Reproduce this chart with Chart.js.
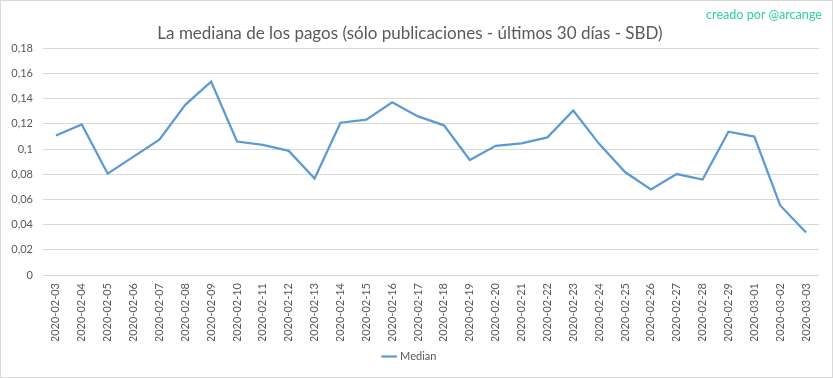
<!DOCTYPE html>
<html>
<head>
<meta charset="utf-8">
<title>La mediana de los pagos</title>
<script src="https://cdn.jsdelivr.net/npm/chart.js@4"></script>
<style>
  html, body { margin: 0; padding: 0; background: #fff; }
  .wrap {
    position: relative;
    width: 833px;
    height: 378px;
    box-sizing: border-box;
    border: 1px solid #d9d9d9;
  }
  .wrap canvas { position: absolute; left: 0; top: 0; }
  .credit {
    position: absolute;
    right: 10px;
    top: 6px;
    font-family: Lato, "Open Sans", sans-serif;
    font-size: 12.6px;
    color: #2ecfa6;
  }
</style>
</head>
<body>
<div class="wrap">
  <canvas id="chart" width="833" height="378"></canvas>
  <div class="credit">creado por @arcange</div>
</div>
<script>
const dates = [
  '2020-02-03', '2020-02-04', '2020-02-05', '2020-02-06', '2020-02-07',
  '2020-02-08', '2020-02-09', '2020-02-10', '2020-02-11', '2020-02-12',
  '2020-02-13', '2020-02-14', '2020-02-15', '2020-02-16', '2020-02-17',
  '2020-02-18', '2020-02-19', '2020-02-20', '2020-02-21', '2020-02-22',
  '2020-02-23', '2020-02-24', '2020-02-25', '2020-02-26', '2020-02-27',
  '2020-02-28', '2020-02-29', '2020-03-01', '2020-03-02', '2020-03-03'
];
// median payout per day (SBD)
const median = [
  0.1108, 0.1195, 0.0805, 0.094, 0.1075,
  0.1352, 0.1536, 0.106, 0.1034, 0.0986,
  0.0766, 0.121, 0.1234, 0.1372, 0.126,
  0.1189, 0.0914, 0.1026, 0.1045, 0.1093,
  0.1306, 0.1042, 0.0818, 0.068, 0.0802,
  0.0758, 0.1138, 0.110, 0.0552, 0.0337
];
const yMin = 0;
const yMax = 0.18;
const yStep = 0.02;

const grey = '#595959';
const fontFamily = 'Lato, "Open Sans", sans-serif';

new Chart(document.getElementById('chart'), {
  type: 'line',
  data: {
    labels: dates,
    datasets: [{
      label: 'Median',
      data: median,
      borderColor: '#5b9bd5',
      backgroundColor: '#5b9bd5',
      borderWidth: 2.25,
      pointRadius: 0,
      tension: 0,
      fill: false
    }]
  },
  options: {
    responsive: false,
    animation: false,
    layout: { padding: { left: 0, right: 15, top: 0, bottom: 7 } },
    plugins: {
      title: {
        display: true,
        text: 'La mediana de los pagos (sólo publicaciones - últimos 30 días - SBD)',
        color: grey,
        font: { family: fontFamily, size: 17, weight: 'normal' },
        padding: { top: 22, bottom: 5 }
      },
      legend: {
        position: 'bottom',
        labels: {
          color: grey,
          font: { family: fontFamily, size: 11 },
          usePointStyle: true,
          pointStyle: 'line',
          boxWidth: 26,
          padding: 10
        }
      },
      tooltip: { enabled: false }
    },
    scales: {
      x: {
        offset: true,
        grid: { display: false, drawTicks: false },
        border: { display: false },
        ticks: {
          color: grey,
          font: { family: fontFamily, size: 11 },
          autoSkip: false,
          minRotation: 90,
          maxRotation: 90,
          padding: 8
        },
        afterFit: s => { s.height = 66; }
      },
      y: {
        min: yMin,
        max: yMax,
        grid: { color: '#d9d9d9', drawTicks: false },
        border: { display: false },
        ticks: {
          stepSize: yStep,
          color: grey,
          font: { family: fontFamily, size: 11 },
          padding: 10,
          callback: v => String(+v.toFixed(2)).replace('.', ',')
        },
        afterFit: s => { s.width = 42; }
      }
    }
  }
});
</script>
</body>
</html>
